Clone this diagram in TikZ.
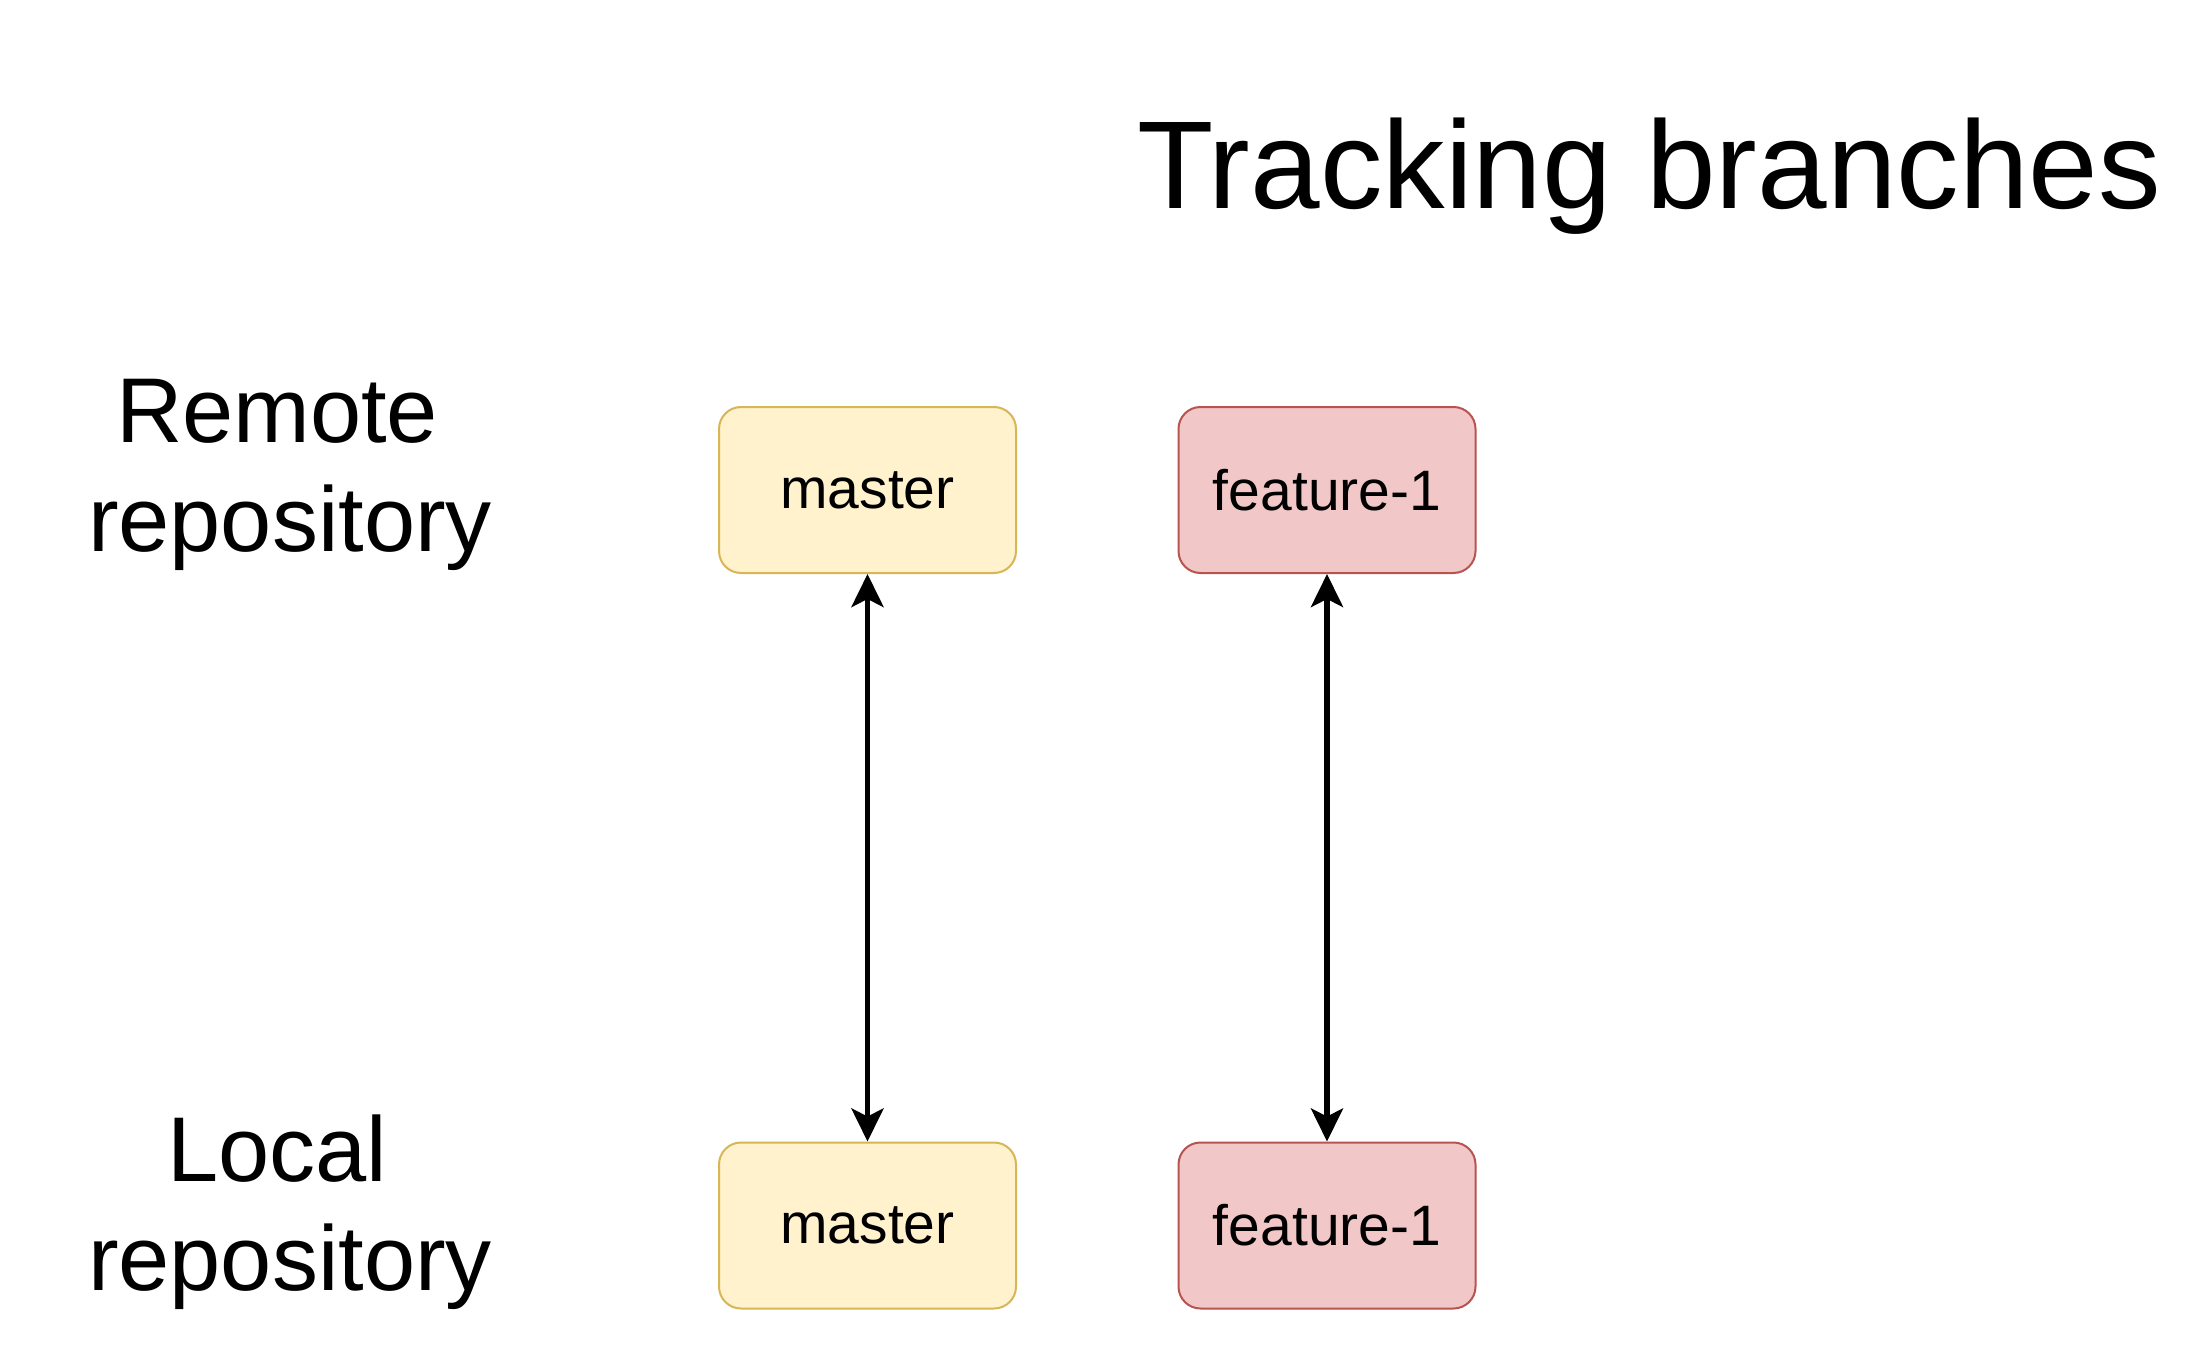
\documentclass[tikz,border=0pt]{standalone}
\usepackage{fontspec}
\setmainfont{Liberation Sans}
\usetikzlibrary{arrows.meta}
\definecolor{yfill}{HTML}{FFF2CC}
\definecolor{ydraw}{HTML}{D6B656}
\definecolor{rfill}{HTML}{F2C7C7}
\definecolor{rdraw}{HTML}{B85450}
\tikzset{
  branchbox/.style={rounded corners=22pt, line width=2pt, minimum width=297pt, minimum height=166pt, inner sep=0pt,
    font=\fontsize{57}{68}\selectfont},
  ybox/.style={branchbox, fill=yfill, draw=ydraw},
  rbox/.style={branchbox, fill=rfill, draw=rdraw},
  sidelabel/.style={align=center, inner sep=0pt, anchor=north, font=\fontsize{92}{109}\selectfont},
  tracklink/.style={line width=5.5pt, {Stealth[length=33pt,width=32pt,inset=8pt]}-{Stealth[length=33pt,width=32pt,inset=8pt]}}
}
\begin{document}
\begin{tikzpicture}[x=1pt,y=-1pt]
\useasboundingbox (0,0) rectangle (2186,1364);
\fill[white] (0,0) rectangle (2186,1364);
\node[anchor=base, inner sep=0pt, font=\fontsize{125}{150}\selectfont] (title) at (1649,209) {Tracking branches};
\node[sidelabel] (remote) at (290,379) {Remote\hspace*{0.28em}\\repository};
\node[sidelabel] (local) at (290,1115) {Local\hspace*{0.28em}\\repository};
\node[ybox] (rmaster) at (867.5,490) {master};
\node[rbox] (rfeat) at (1327,490) {feature-1};
\node[ybox] (lmaster) at (867.5,1225.5) {master};
\node[rbox] (lfeat) at (1327,1225.5) {feature-1};
\draw[tracklink] (rmaster.south) -- (lmaster.north);
\draw[tracklink] (rfeat.south) -- (lfeat.north);
\end{tikzpicture}
\end{document}
